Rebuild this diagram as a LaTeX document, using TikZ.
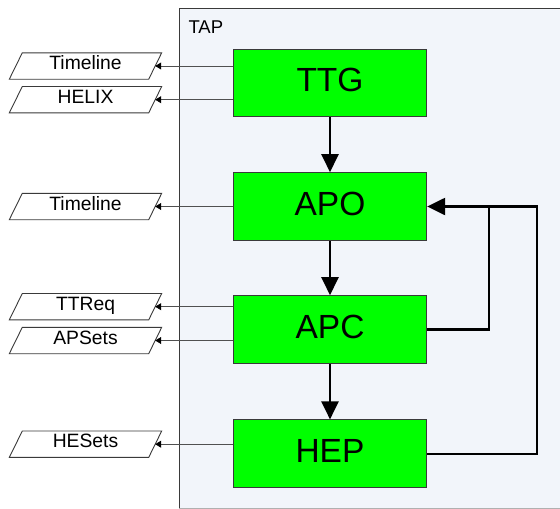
\documentclass[tikz,border=0pt]{standalone}
\usepackage{fontspec}
\setmainfont{Liberation Sans}
\usetikzlibrary{arrows.meta,calc}

\definecolor{panelbg}{HTML}{F2F5FA}
\definecolor{procgreen}{HTML}{00FF00}
\definecolor{edgegray}{HTML}{3A3A3A}
\definecolor{linkgray}{HTML}{505050}
\definecolor{rimgray}{HTML}{B0B0B0}

\tikzset{
  proc/.style={draw=edgegray, line width=0.9pt, fill=procgreen,
    minimum width=193.4pt, minimum height=67.7pt, inner sep=0pt,
    text height=24pt, text depth=6.6pt,
    font=\fontsize{33.5}{36}\selectfont},
  iobox/.style={minimum width=139pt, minimum height=26pt, inner sep=0pt,
    text height=10pt, text depth=3pt,
    font=\fontsize{19.3}{21}\selectfont},
  ioframe/.style={draw=edgegray, line width=0.9pt, fill=white},
  flow/.style={line width=2.3pt, -{Triangle[length=18pt,width=17pt]}},
  feedback/.style={line width=2.3pt, line join=miter},
  outlink/.style={draw=linkgray, line width=0.8pt,
    -{Triangle[length=6pt,width=7pt,color=black]}},
}

\begin{document}
\begin{tikzpicture}[x=1pt,y=-1pt]
  \useasboundingbox (0,0) rectangle (560,509);
  \clip (0,0) rectangle (560,509);

  % TAP container
  \fill[panelbg] (179,8) rectangle (575,508);
  \draw[rimgray, line width=0.9pt] (179,508) -- (575,508);
  \draw[edgegray, line width=0.9pt] (179,508) -- (179,8) -- (575,8);
  \node[anchor=base west, font=\fontsize{18.5}{20}\selectfont, inner sep=0pt] (tap) at (188.3,33) {TAP};

  % processing stages
  \node[proc] (ttg) at (330,83)    {TTG};
  \node[proc] (apo) at (330,206.5) {APO};
  \node[proc] (apc) at (330,329.5) {APC};
  \node[proc] (hep) at (330,453.7) {HEP};

  % data outputs
  \node[iobox] (o1) at (85.5,66)    {};
  \node[iobox] (o2) at (85.5,99.7)  {};
  \node[iobox] (o3) at (85.5,206.5) {};
  \node[iobox] (o4) at (85.5,306.7) {};
  \node[iobox] (o5) at (85.5,340.5) {};
  \node[iobox] (o6) at (85.5,444.2) {};
  \foreach \n in {o1,o2,o3,o4,o5,o6}
    \draw[ioframe] ($(\n.south west)+(-6.5,0)$) -- ($(\n.south east)+(-6.5,0)$)
      -- ($(\n.north east)+(6.5,0)$) -- ($(\n.north west)+(6.5,0)$) -- cycle;
  \node[iobox] (t1) at (o1) {Timeline};
  \node[iobox] (t2) at (o2) {HELIX};
  \node[iobox] (t3) at (o3) {Timeline};
  \node[iobox] (t4) at (o4) {TTReq};
  \node[iobox] (t5) at (o5) {APSets};
  \node[iobox] (t6) at (o6) {HESets};

  % outputs of each stage
  \draw[outlink] (ttg.west |- o1.east) -- (o1.east);
  \draw[outlink] (ttg.west |- o2.east) -- (o2.east);
  \draw[outlink] (apo.west |- o3.east) -- (o3.east);
  \draw[outlink] (apc.west |- o4.east) -- (o4.east);
  \draw[outlink] (apc.west |- o5.east) -- (o5.east);
  \draw[outlink] (hep.west |- o6.east) -- (o6.east);

  % main flow
  \draw[flow] (ttg.south) -- (apo.north);
  \draw[flow] (apo.south) -- (apc.north);
  \draw[flow] (apc.south) -- (hep.north);

  % feedback loops into APO
  \coordinate (j1) at (489,206.5);
  \coordinate (j2) at (537,206.5);
  \draw[feedback] (hep.east) -| (j2) -- (j1);
  \draw[feedback,flow] (apc.east) -| (j1) -- (apo.east);
\end{tikzpicture}
\end{document}
